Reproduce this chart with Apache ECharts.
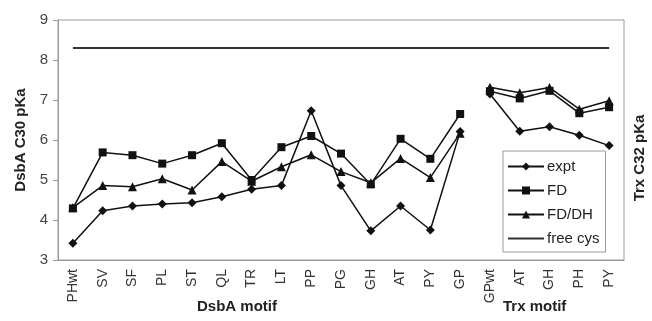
<!DOCTYPE html>
<html>
<head>
<meta charset="utf-8">
<script src="https://cdn.jsdelivr.net/npm/echarts@6/dist/echarts.min.js"></script>
<style>
  html, body { margin: 0; padding: 0; background: #fff; }
  #chart { width: 652px; height: 321px; }
</style>
</head>
<body>
<div id="chart"></div>
<script>
// categories: DsbA motifs then Trx motifs
var dsbaMotifs = ['PHwt', 'SV', 'SF', 'PL', 'ST', 'QL', 'TR', 'LT', 'PP', 'PG', 'GH', 'AT', 'PY', 'GP'];
var trxMotifs = ['GPwt', 'AT', 'GH', 'PH', 'PY'];

var dsbaExpt = [3.42, 4.23, 4.35, 4.40, 4.43, 4.58, 4.77, 4.86, 6.73, 4.86, 3.73, 4.35, 3.75, 6.21];
var dsbaFD   = [4.29, 5.69, 5.62, 5.41, 5.62, 5.92, 5.00, 5.82, 6.10, 5.66, 4.89, 6.03, 5.53, 6.65];
var dsbaFDDH = [4.31, 4.86, 4.83, 5.03, 4.75, 5.46, 4.97, 5.33, 5.63, 5.21, 4.93, 5.54, 5.06, 6.17];

var trxExpt = [7.15, 6.22, 6.33, 6.12, 5.86];
var trxFD   = [7.22, 7.04, 7.23, 6.67, 6.82];
var trxFDDH = [7.32, 7.18, 7.31, 6.77, 6.98];

var freeCys = 8.3;

var categories = dsbaMotifs.concat(trxMotifs);
var pad = function (n) { var a = []; for (var i = 0; i < n; i++) a.push('-'); return a; };
var nD = dsbaMotifs.length, nT = trxMotifs.length;

var lineColor = '#111';
function mk(name, symbol, size, data) {
    return {
        name: name,
        type: 'line',
        symbol: symbol,
        symbolSize: size,
        data: data,
        itemStyle: { color: lineColor },
        lineStyle: { color: lineColor, width: 1.5 },
        animation: false
    };
}

var series = [
    mk('expt', 'diamond', 9, dsbaExpt.concat(pad(nT))),
    mk('expt', 'diamond', 9, pad(nD).concat(trxExpt)),
    mk('FD', 'rect', 8, dsbaFD.concat(pad(nT))),
    mk('FD', 'rect', 8, pad(nD).concat(trxFD)),
    mk('FD/DH', 'triangle', 9, dsbaFDDH.concat(pad(nT))),
    mk('FD/DH', 'triangle', 9, pad(nD).concat(trxFDDH)),
    {
        name: 'free cys',
        type: 'line',
        symbol: 'none',
        data: categories.map(function () { return freeCys; }),
        lineStyle: { color: '#333', width: 2 },
        itemStyle: { color: '#333' },
        animation: false
    }
];

var chart = echarts.init(document.getElementById('chart'));
chart.setOption({
    backgroundColor: '#fff',
    textStyle: { fontFamily: 'Liberation Sans, Arial, sans-serif' },
    grid: {
        left: 58, right: 28, top: 20, bottom: 61,
        show: true, borderColor: '#999', borderWidth: 1
    },
    legend: {
        data: ['expt', 'FD', 'FD/DH', { name: 'free cys', itemStyle: { opacity: 0 } }],
        orient: 'vertical',
        left: 503,
        top: 151,
        itemWidth: 36,
        itemHeight: 10,
        itemGap: 9,
        padding: [8, 6, 6, 4],
        backgroundColor: '#fff',
        borderColor: '#999',
        borderWidth: 1,
        borderRadius: 0,
        textStyle: { fontSize: 15, color: '#222', padding: [0, 0, 0, -2] }
    },
    xAxis: {
        type: 'category',
        data: categories,
        boundaryGap: true,
        axisLine: { lineStyle: { color: '#999' } },
        axisTick: { length: 5, lineStyle: { color: '#999' } },
        axisLabel: { rotate: 90, fontSize: 14, color: '#333', margin: 9, interval: 0 }
    },
    yAxis: {
        type: 'value',
        min: 3,
        max: 9,
        interval: 1,
        name: 'DsbA C30 pKa',
        nameLocation: 'middle',
        nameGap: 29,
        nameTextStyle: { fontSize: 15, fontWeight: 'bold', color: '#222' },
        axisLine: { show: true, lineStyle: { color: '#999' } },
        axisTick: { show: true, length: 5, lineStyle: { color: '#999' } },
        axisLabel: { fontSize: 15, color: '#444', margin: 10 },
        splitLine: { show: false }
    },
    graphic: [
        { type: 'text', left: 197, top: 299, style: { text: 'DsbA motif', font: 'bold 15px Liberation Sans, Arial', fill: '#222' } },
        { type: 'text', left: 503, top: 299, style: { text: 'Trx motif', font: 'bold 15px Liberation Sans, Arial', fill: '#222' } },
        { type: 'text', x: 640, y: 158, rotation: Math.PI / 2, style: { text: 'Trx C32 pKa', font: 'bold 15px Liberation Sans, Arial', fill: '#222', align: 'center', verticalAlign: 'middle' } }
    ],
    series: series
});
</script>
</body>
</html>
